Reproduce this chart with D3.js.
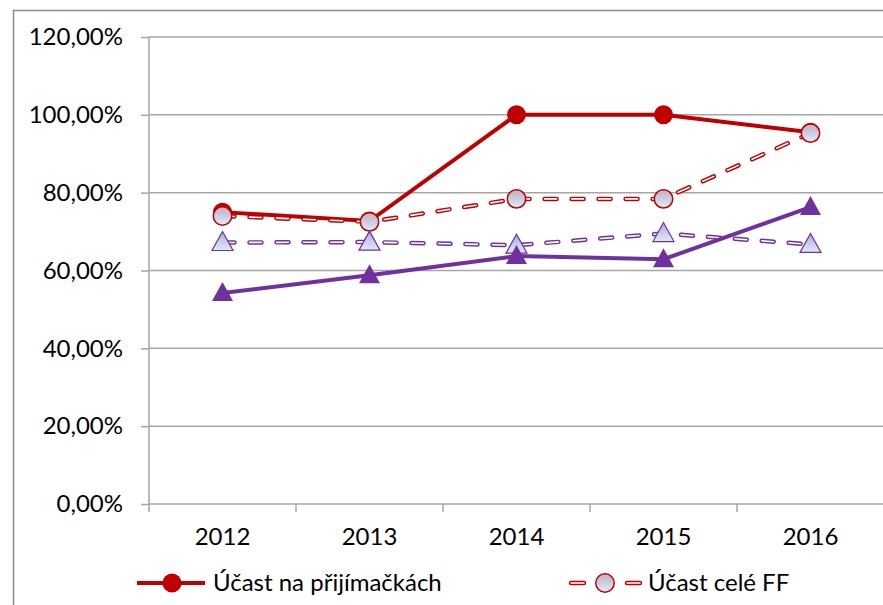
<!DOCTYPE html>
<html>
<head>
<meta charset="utf-8">
<script src="https://cdn.jsdelivr.net/npm/d3@7"></script>
<style>
  html, body { margin: 0; padding: 0; background: #fff; }
  svg { display: block; font-family: Lato, "Open Sans", sans-serif; }
</style>
</head>
<body>
<svg id="chart" width="883" height="605"></svg>
<script>
// data
const years = ["2012", "2013", "2014", "2015", "2016"];
const yTicks = [0, 20, 40, 60, 80, 100, 120];
const ucastPrijimacky = [75.0, 72.7, 100.0, 100.0, 95.5];
const ucastCeleFF = [74.0, 72.5, 78.4, 78.4, 95.3];
const purpleSolid = [54.2, 58.8, 63.7, 62.9, 76.3];
const purpleDashed = [67.2, 67.3, 66.5, 69.5, 66.7];

const red = "#c00000";
const purple = "#7030a0";
const grid = "#a6a6a6";
const fontSize = 24;

const svg = d3.select("#chart");
const margin = {top: 37, left: 149, bottom: 504, right: 884};

// gradients for the light markers
const defs = svg.append("defs");
function addGrad(id, stops){
  let g = defs.append("linearGradient").attr("id", id)
    .attr("x1", 0).attr("y1", 0).attr("x2", 0).attr("y2", 1);
  stops.forEach(s => g.append("stop").attr("offset", s[0]).attr("stop-color", s[1]));
}
addGrad("gradCircle", [[0, "#d9a9b6"], [0.4, "#c3c8de"], [1, "#e4ecf8"]]);
addGrad("gradTri", [[0, "#ae9fd6"], [0.5, "#c6cbea"], [1, "#e2e8f6"]]);

// outer frame
svg.append("rect")
  .attr("x", 13.5).attr("y", 10.5)
  .attr("width", 900).attr("height", 700)
  .attr("fill", "none").attr("stroke", "#8c8c8c").attr("stroke-width", 1.5);

let x = d3.scaleBand().domain(years).range([margin.left, margin.right]);
let y = d3.scaleLinear().domain([0, 120]).range([margin.bottom, margin.top]);

// gridlines
svg.append("g")
  .selectAll("line")
  .data(yTicks.filter(d => d > 0))
  .enter().append("line")
  .attr("x1", margin.left).attr("x2", 883)
  .attr("y1", d => y(d)).attr("y2", d => y(d))
  .attr("stroke", grid).attr("stroke-width", 1.5);

// y axis
let yAxis = svg.append("g")
  .attr("transform", "translate(" + margin.left + ",0)")
  .call(d3.axisLeft(y).tickValues(yTicks).tickSize(8).tickPadding(18)
          .tickFormat(d => d3.format(".2f")(d).replace(".", ",") + "%"));
yAxis.select(".domain").attr("stroke", grid).attr("stroke-width", 1.5)
  .attr("d", "M0," + margin.top + "V" + margin.bottom);
yAxis.selectAll(".tick line").attr("stroke", grid).attr("stroke-width", 1.5);
yAxis.selectAll("text").attr("font-size", fontSize).attr("fill", "#000")
  .attr("font-family", "Lato, sans-serif");

// x axis
let xAxis = svg.append("g")
  .attr("transform", "translate(0," + margin.bottom + ")")
  .call(d3.axisBottom(x).tickSize(0).tickPadding(24));
xAxis.select(".domain").remove();
xAxis.append("line").attr("x1", margin.left).attr("x2", 883)
  .attr("stroke", grid).attr("stroke-width", 1.5);
xAxis.selectAll(".sep")
  .data(years.map(d => x(d)).concat([margin.right]))
  .enter().append("line")
  .attr("x1", d => d).attr("x2", d => d).attr("y1", 0).attr("y2", 8)
  .attr("stroke", grid).attr("stroke-width", 1.5);
xAxis.selectAll("text").attr("font-size", fontSize).attr("fill", "#000")
  .attr("font-family", "Lato, sans-serif");

let cx = (d, i) => x(years[i]) + x.bandwidth() / 2;
let line = d3.line().x(cx).y(d => y(d));

function solidSeries(vals, color){
  svg.append("path").datum(vals).attr("d", line)
    .attr("fill", "none").attr("stroke", color).attr("stroke-width", 4);
}
function dashedSeries(vals, color){
  svg.append("path").datum(vals).attr("d", line)
    .attr("fill", "none").attr("stroke", color).attr("stroke-width", 4.5)
    .attr("stroke-dasharray", "12,15").attr("stroke-linecap", "round");
  svg.append("path").datum(vals).attr("d", line)
    .attr("fill", "none").attr("stroke", "#fff").attr("stroke-width", 1.6)
    .attr("stroke-dasharray", "12,15").attr("stroke-linecap", "round");
}
const triPath = "M0,-11 L10.5,8 L-10.5,8 Z";

// red solid
solidSeries(ucastPrijimacky, red);
svg.append("g").selectAll("circle").data(ucastPrijimacky).enter()
  .append("circle").attr("cx", cx).attr("cy", d => y(d)).attr("r", 9.5)
  .attr("fill", red);

// red dashed
dashedSeries(ucastCeleFF, red);
svg.append("g").selectAll("circle").data(ucastCeleFF).enter()
  .append("circle").attr("cx", cx).attr("cy", d => y(d)).attr("r", 9.2)
  .attr("fill", "url(#gradCircle)").attr("stroke", red).attr("stroke-width", 1.5);

// purple dashed
dashedSeries(purpleDashed, purple);
svg.append("g").selectAll("path").data(purpleDashed).enter()
  .append("path").attr("d", triPath)
  .attr("transform", (d, i) => "translate(" + cx(d, i) + "," + y(d) + ")")
  .attr("fill", "url(#gradTri)").attr("stroke", purple).attr("stroke-width", 1.2);

// purple solid
solidSeries(purpleSolid, purple);
svg.append("g").selectAll("path").data(purpleSolid).enter()
  .append("path").attr("d", triPath)
  .attr("transform", (d, i) => "translate(" + cx(d, i) + "," + y(d) + ")")
  .attr("fill", purple);

// legend (only the first row is visible)
let leg = svg.append("g").attr("transform", "translate(0,583)");
leg.append("line").attr("x1", 137).attr("x2", 205)
  .attr("stroke", red).attr("stroke-width", 4);
leg.append("circle").attr("cx", 172).attr("r", 9.5).attr("fill", red);
leg.append("text").attr("x", 213).attr("y", 8).attr("font-size", fontSize)
  .text("Účast na přijímačkách");

[[571, 584], [627, 640]].forEach(function(seg){
  leg.append("line").attr("x1", seg[0]).attr("x2", seg[1])
    .attr("stroke", red).attr("stroke-width", 4.5).attr("stroke-linecap", "round");
  leg.append("line").attr("x1", seg[0]).attr("x2", seg[1])
    .attr("stroke", "#fff").attr("stroke-width", 1.6).attr("stroke-linecap", "round");
});
leg.append("circle").attr("cx", 605).attr("r", 9.2)
  .attr("fill", "url(#gradCircle)").attr("stroke", red).attr("stroke-width", 1.5);
leg.append("text").attr("x", 648).attr("y", 8).attr("font-size", fontSize)
  .text("Účast celé FF");
</script>
</body>
</html>
